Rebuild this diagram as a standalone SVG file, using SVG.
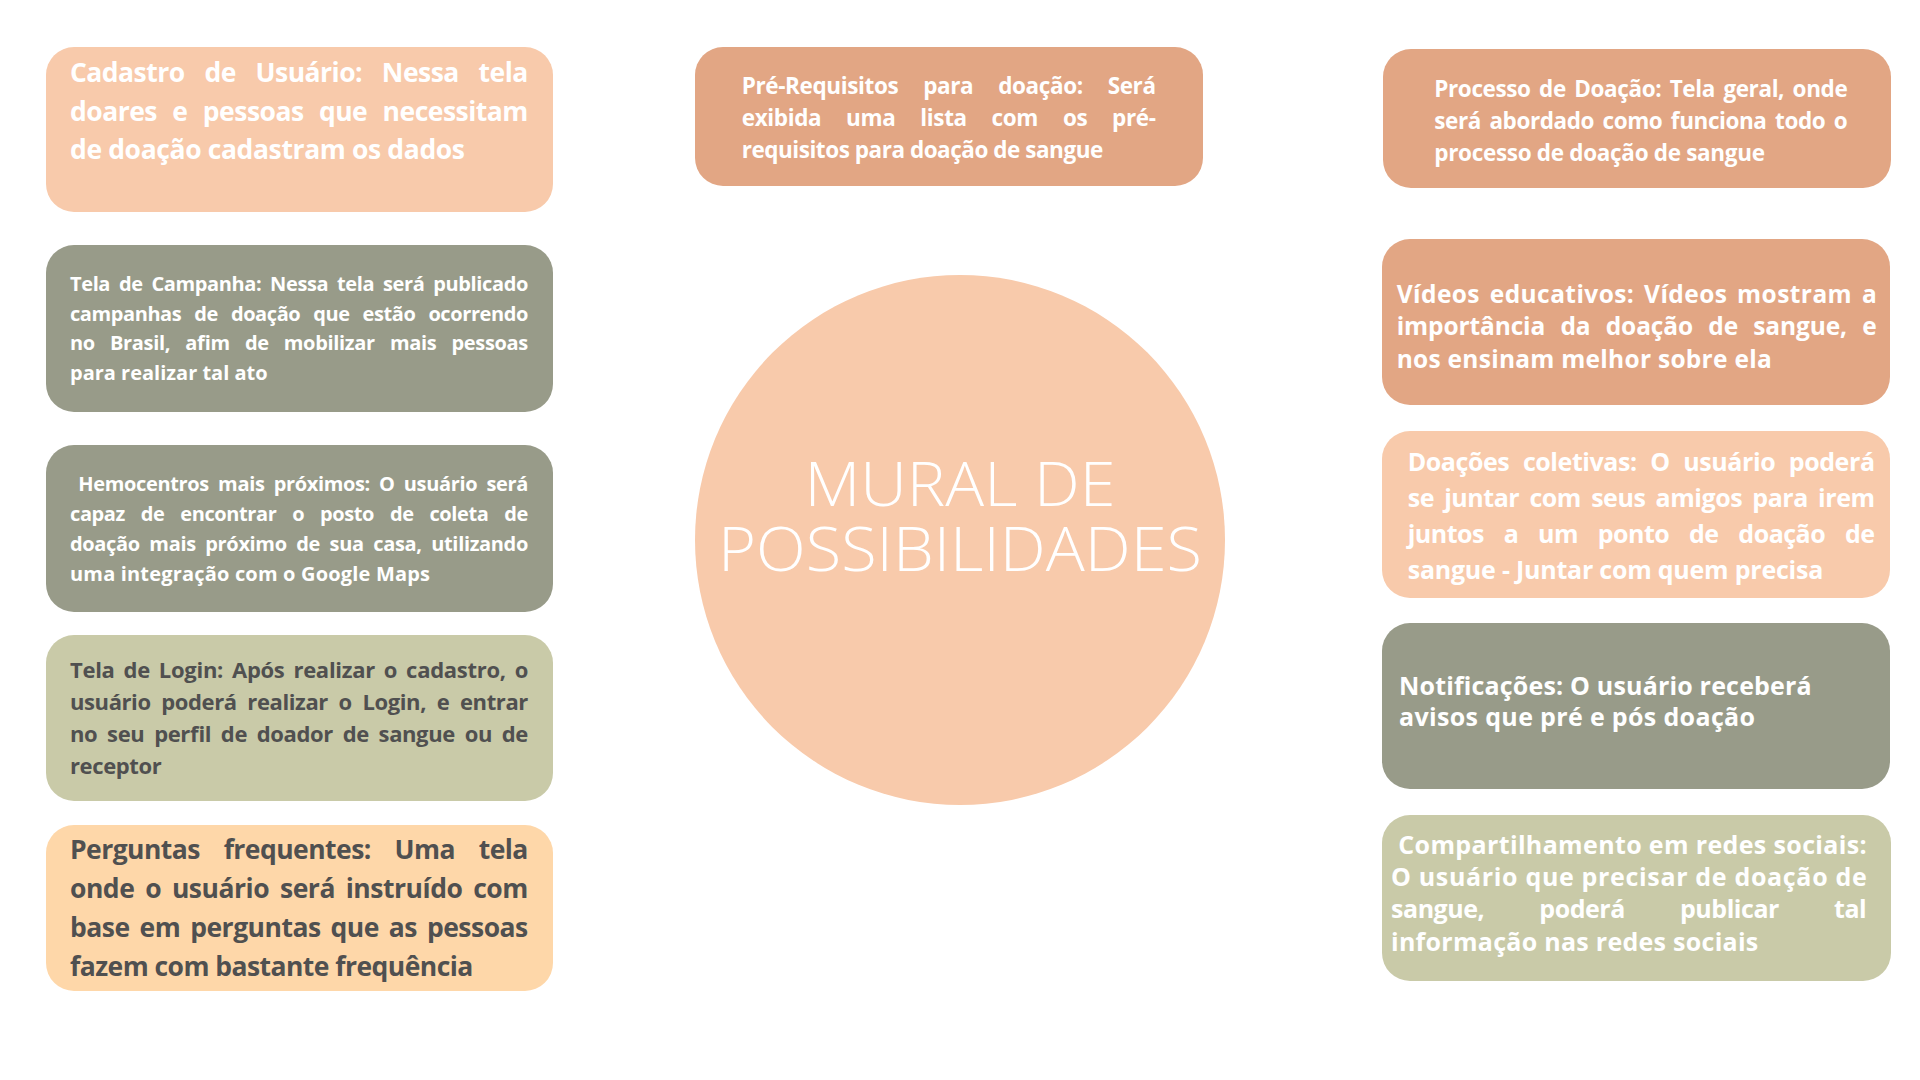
<svg xmlns="http://www.w3.org/2000/svg" width="1920" height="1080" viewBox="0 0 1920 1080">
<style>
.bg{fill:#ffffff}
.peach{fill:#F8CAAB}
.salmon{fill:#E2A684}
.sage{fill:#989B89}
.khaki{fill:#C9CAA8}
.orange{fill:#FED7A9}
.t{font-family:"Open Sans","Liberation Sans",sans-serif;font-weight:700;fill:#ffffff}
.dark{fill:#505050}
.s20{font-size:20px}
.s22{font-size:22px}
.s225{font-size:22.5px}
.s245{font-size:24.5px}
.s25{font-size:25px}
.s265{font-size:26.5px}
.title{font-family:"Open Sans","Liberation Sans",sans-serif;font-weight:300;font-size:60px;fill:#ffffff;text-anchor:middle}
</style>
<rect class="bg" x="0" y="0" width="1920" height="1080"/>
<g id="connectors"/>

<g id="center">
<circle class="peach" cx="960" cy="540" r="265"/>
<text class="title"><tspan x="960" y="505.7" textLength="311" lengthAdjust="spacingAndGlyphs">MURAL DE</tspan><tspan x="960" y="570.7" textLength="484" lengthAdjust="spacingAndGlyphs">POSSIBILIDADES</tspan></text>
</g>

<g id="cadastro">
<rect class="peach" x="46" y="47" width="507" height="165" rx="28"/>
<text class="t s265" x="70" y="82" word-spacing="13.4" textLength="458.3" lengthAdjust="spacing"><tspan>Cadastro</tspan> <tspan>de</tspan> <tspan>Usuário:</tspan> <tspan>Nessa</tspan> <tspan>tela</tspan></text>
<text class="t s265" x="70" y="120.5" word-spacing="9" textLength="458.3" lengthAdjust="spacing"><tspan>doares</tspan> <tspan>e</tspan> <tspan>pessoas</tspan> <tspan>que</tspan> <tspan>necessitam</tspan></text>
<text class="t s265" x="70" y="159" textLength="395" lengthAdjust="spacing"><tspan>de</tspan> <tspan>doação</tspan> <tspan>cadastram</tspan> <tspan>os</tspan> <tspan>dados</tspan></text>
</g>

<g id="campanha">
<rect class="sage" x="46" y="245" width="507" height="167" rx="28"/>
<text class="t s20" x="70" y="291" word-spacing="4" textLength="458.3" lengthAdjust="spacing"><tspan>Tela</tspan> <tspan>de</tspan> <tspan>Campanha:</tspan> <tspan>Nessa</tspan> <tspan>tela</tspan> <tspan>será</tspan> <tspan>publicado</tspan></text>
<text class="t s20" x="70" y="320.5" word-spacing="8.2" textLength="458.3" lengthAdjust="spacing"><tspan>campanhas</tspan> <tspan>de</tspan> <tspan>doação</tspan> <tspan>que</tspan> <tspan>estão</tspan> <tspan>ocorrendo</tspan></text>
<text class="t s20" x="70" y="350" word-spacing="10.2" textLength="458.3" lengthAdjust="spacing"><tspan>no</tspan> <tspan>Brasil,</tspan> <tspan>afim</tspan> <tspan>de</tspan> <tspan>mobilizar</tspan> <tspan>mais</tspan> <tspan>pessoas</tspan></text>
<text class="t s20" x="70" y="380"><tspan>para</tspan> <tspan>realizar</tspan> <tspan>tal</tspan> <tspan>ato</tspan></text>
</g>

<g id="hemocentros">
<rect class="sage" x="46" y="445" width="507" height="167" rx="28"/>
<text class="t s20" x="78.3" y="490.5" word-spacing="4.3" textLength="450" lengthAdjust="spacing"><tspan>Hemocentros</tspan> <tspan>mais</tspan> <tspan>próximos:</tspan> <tspan>O</tspan> <tspan>usuário</tspan> <tspan>será</tspan></text>
<text class="t s20" x="70" y="520.5" word-spacing="11" textLength="458.3" lengthAdjust="spacing"><tspan>capaz</tspan> <tspan>de</tspan> <tspan>encontrar</tspan> <tspan>o</tspan> <tspan>posto</tspan> <tspan>de</tspan> <tspan>coleta</tspan> <tspan>de</tspan></text>
<text class="t s20" x="70" y="550.5" word-spacing="4.7" textLength="458.3" lengthAdjust="spacing"><tspan>doação</tspan> <tspan>mais</tspan> <tspan>próximo</tspan> <tspan>de</tspan> <tspan>sua</tspan> <tspan>casa,</tspan> <tspan>utilizando</tspan></text>
<text class="t s20" x="70" y="580.5" textLength="360" lengthAdjust="spacing"><tspan>uma</tspan> <tspan>integração</tspan> <tspan>com</tspan> <tspan>o</tspan> <tspan>Google</tspan> <tspan>Maps</tspan></text>
</g>

<g id="login">
<rect class="khaki" x="46" y="635" width="507" height="166" rx="28"/>
<text class="t dark s22" x="70" y="678" word-spacing="3.5" textLength="458.3" lengthAdjust="spacing"><tspan>Tela</tspan> <tspan>de</tspan> <tspan>Login:</tspan> <tspan>Após</tspan> <tspan>realizar</tspan> <tspan>o</tspan> <tspan>cadastro,</tspan> <tspan>o</tspan></text>
<text class="t dark s22" x="70" y="710" word-spacing="5.4" textLength="458.3" lengthAdjust="spacing"><tspan>usuário</tspan> <tspan>poderá</tspan> <tspan>realizar</tspan> <tspan>o</tspan> <tspan>Login,</tspan> <tspan>e</tspan> <tspan>entrar</tspan></text>
<text class="t dark s22" x="70" y="742" word-spacing="4.5" textLength="458.3" lengthAdjust="spacing"><tspan>no</tspan> <tspan>seu</tspan> <tspan>perfil</tspan> <tspan>de</tspan> <tspan>doador</tspan> <tspan>de</tspan> <tspan>sangue</tspan> <tspan>ou</tspan> <tspan>de</tspan></text>
<text class="t dark s22" x="70" y="774" textLength="91.7" lengthAdjust="spacing"><tspan>receptor</tspan></text>
</g>

<g id="perguntas">
<rect class="orange" x="46" y="825" width="507" height="166" rx="28"/>
<text class="t dark s265" x="70" y="858.5" word-spacing="17.4" textLength="458.3" lengthAdjust="spacing"><tspan>Perguntas</tspan> <tspan>frequentes:</tspan> <tspan>Uma</tspan> <tspan>tela</tspan></text>
<text class="t dark s265" x="70" y="897.5" word-spacing="4.4" textLength="458.3" lengthAdjust="spacing"><tspan>onde</tspan> <tspan>o</tspan> <tspan>usuário</tspan> <tspan>será</tspan> <tspan>instruído</tspan> <tspan>com</tspan></text>
<text class="t dark s265" x="70" y="936.5" word-spacing="3.6" textLength="458.3" lengthAdjust="spacing"><tspan>base</tspan> <tspan>em</tspan> <tspan>perguntas</tspan> <tspan>que</tspan> <tspan>as</tspan> <tspan>pessoas</tspan></text>
<text class="t dark s265" x="70" y="975.5" textLength="403.3" lengthAdjust="spacing"><tspan>fazem</tspan> <tspan>com</tspan> <tspan>bastante</tspan> <tspan>frequência</tspan></text>
</g>

<g id="prerequisitos">
<rect class="salmon" x="695" y="47" width="508" height="139" rx="28"/>
<text class="t s225" x="741.7" y="94" word-spacing="19.4" textLength="414.3" lengthAdjust="spacing"><tspan>Pré-Requisitos</tspan> <tspan>para</tspan> <tspan>doação:</tspan> <tspan>Será</tspan></text>
<text class="t s225" x="741.7" y="126" word-spacing="19.3" textLength="414.3" lengthAdjust="spacing"><tspan>exibida</tspan> <tspan>uma</tspan> <tspan>lista</tspan> <tspan>com</tspan> <tspan>os</tspan> <tspan>pré-</tspan></text>
<text class="t s225" x="741.7" y="158" textLength="361.6" lengthAdjust="spacing"><tspan>requisitos</tspan> <tspan>para</tspan> <tspan>doação</tspan> <tspan>de</tspan> <tspan>sangue</tspan></text>
</g>

<g id="processo">
<rect class="salmon" x="1383" y="49" width="508" height="139" rx="28"/>
<text class="t s225" x="1434.3" y="96.5" word-spacing="3" textLength="413.4" lengthAdjust="spacing"><tspan>Processo</tspan> <tspan>de</tspan> <tspan>Doação:</tspan> <tspan>Tela</tspan> <tspan>geral,</tspan> <tspan>onde</tspan></text>
<text class="t s225" x="1434.3" y="128.5" word-spacing="3.1" textLength="413.4" lengthAdjust="spacing"><tspan>será</tspan> <tspan>abordado</tspan> <tspan>como</tspan> <tspan>funciona</tspan> <tspan>todo</tspan> <tspan>o</tspan></text>
<text class="t s225" x="1434.3" y="160.5" textLength="330.7" lengthAdjust="spacing"><tspan>processo</tspan> <tspan>de</tspan> <tspan>doação</tspan> <tspan>de</tspan> <tspan>sangue</tspan></text>
</g>

<g id="videos">
<rect class="salmon" x="1382" y="239" width="508" height="166" rx="28"/>
<text class="t s245" x="1396.7" y="302.7" word-spacing="3" textLength="480" lengthAdjust="spacing"><tspan>Vídeos</tspan> <tspan>educativos:</tspan> <tspan>Vídeos</tspan> <tspan>mostram</tspan> <tspan>a</tspan></text>
<text class="t s245" x="1396.7" y="335" word-spacing="9" textLength="480" lengthAdjust="spacing"><tspan>importância</tspan> <tspan>da</tspan> <tspan>doação</tspan> <tspan>de</tspan> <tspan>sangue,</tspan> <tspan>e</tspan></text>
<text class="t s245" x="1396.7" y="367.7" textLength="375" lengthAdjust="spacing"><tspan>nos</tspan> <tspan>ensinam</tspan> <tspan>melhor</tspan> <tspan>sobre</tspan> <tspan>ela</tspan></text>
</g>

<g id="coletivas">
<rect class="peach" x="1382" y="431" width="508" height="167" rx="28"/>
<text class="t s25" x="1407.7" y="471" word-spacing="7.5" textLength="467.3" lengthAdjust="spacing"><tspan>Doações</tspan> <tspan>coletivas:</tspan> <tspan>O</tspan> <tspan>usuário</tspan> <tspan>poderá</tspan></text>
<text class="t s25" x="1407.7" y="507" word-spacing="4.2" textLength="467.3" lengthAdjust="spacing"><tspan>se</tspan> <tspan>juntar</tspan> <tspan>com</tspan> <tspan>seus</tspan> <tspan>amigos</tspan> <tspan>para</tspan> <tspan>irem</tspan></text>
<text class="t s25" x="1407.7" y="543" word-spacing="13.7" textLength="467.3" lengthAdjust="spacing"><tspan>juntos</tspan> <tspan>a</tspan> <tspan>um</tspan> <tspan>ponto</tspan> <tspan>de</tspan> <tspan>doação</tspan> <tspan>de</tspan></text>
<text class="t s25" x="1407.7" y="579" textLength="415.6" lengthAdjust="spacing"><tspan>sangue</tspan> <tspan>-</tspan> <tspan>Juntar</tspan> <tspan>com</tspan> <tspan>quem</tspan> <tspan>precisa</tspan></text>
</g>

<g id="notificacoes">
<rect class="sage" x="1382" y="623" width="508" height="166" rx="28"/>
<text class="t s25" x="1399" y="694.5" textLength="412.7" lengthAdjust="spacing"><tspan>Notificações:</tspan> <tspan>O</tspan> <tspan>usuário</tspan> <tspan>receberá</tspan></text>
<text class="t s25" x="1399" y="726" textLength="356" lengthAdjust="spacing"><tspan>avisos</tspan> <tspan>que</tspan> <tspan>pré</tspan> <tspan>e</tspan> <tspan>pós</tspan> <tspan>doação</tspan></text>
</g>

<g id="compartilhamento">
<rect class="khaki" x="1382" y="815" width="509" height="166" rx="28"/>
<text class="t s25" x="1398.3" y="854" textLength="468.4" lengthAdjust="spacing"><tspan>Compartilhamento</tspan> <tspan>em</tspan> <tspan>redes</tspan> <tspan>sociais:</tspan></text>
<text class="t s25" x="1391" y="886" textLength="475.7" lengthAdjust="spacing"><tspan>O</tspan> <tspan>usuário</tspan> <tspan>que</tspan> <tspan>precisar</tspan> <tspan>de</tspan> <tspan>doação</tspan> <tspan>de</tspan></text>
<text class="t s25" x="1391" y="918" word-spacing="49" textLength="475.7" lengthAdjust="spacing"><tspan>sangue,</tspan> <tspan>poderá</tspan> <tspan>publicar</tspan> <tspan>tal</tspan></text>
<text class="t s25" x="1391" y="951" textLength="367.3" lengthAdjust="spacing"><tspan>informação</tspan> <tspan>nas</tspan> <tspan>redes</tspan> <tspan>sociais</tspan></text>
</g>
</svg>
